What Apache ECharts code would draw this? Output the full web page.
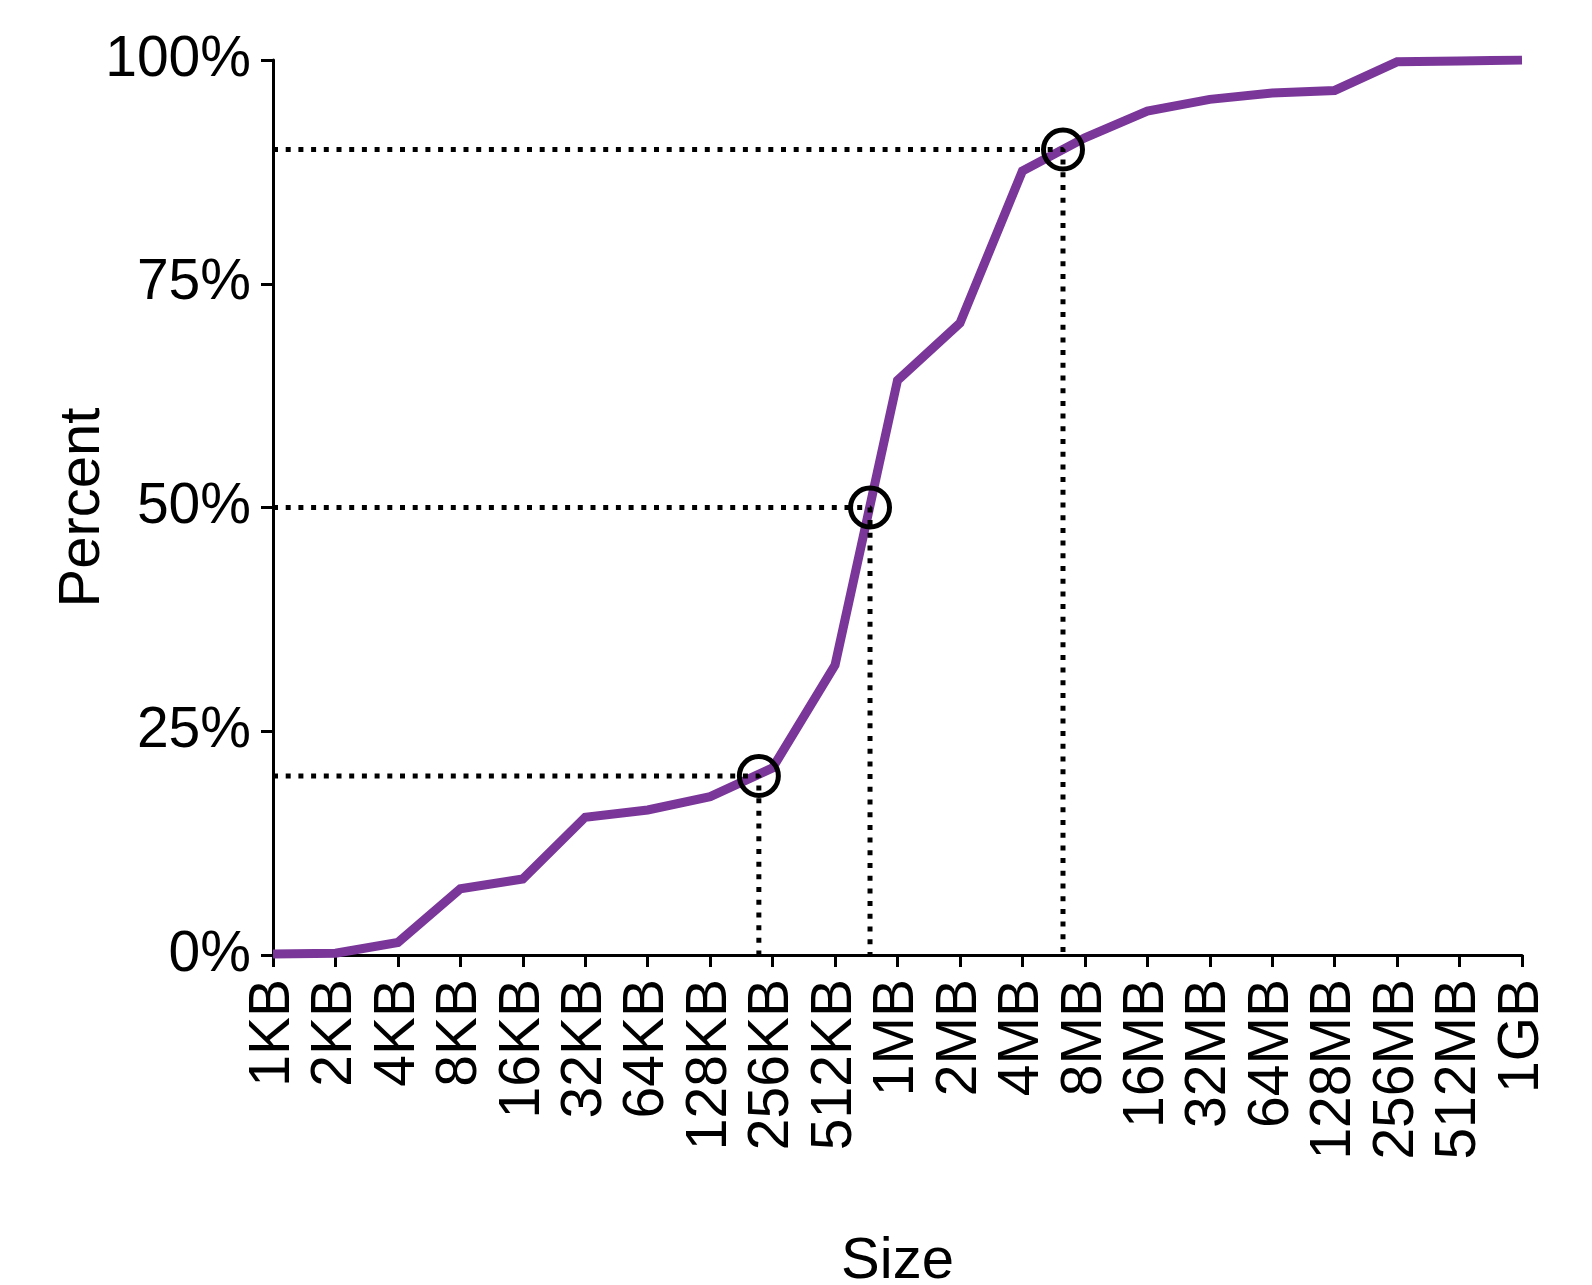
<!DOCTYPE html>
<html>
<head>
<meta charset="utf-8">
<title>Size CDF</title>
<script src="https://cdn.jsdelivr.net/npm/echarts@6/dist/echarts.min.js"></script>
<style>
  html, body { margin: 0; padding: 0; background: #fff; overflow: hidden; }
  #chart { width: 1592px; height: 1285px; }
</style>
</head>
<body>
<div id="chart"></div>
<script>
// Size buckets on the x axis (one tick each, doubling)
const sizeLabels = ['1KB', '2KB', '4KB', '8KB', '16KB', '32KB', '64KB', '128KB', '256KB', '512KB',
  '1MB', '2MB', '4MB', '8MB', '16MB', '32MB', '64MB', '128MB', '256MB', '512MB', '1GB'];

// Cumulative percent at each size bucket
const cumulativePct = [0.1, 0.2, 1.4, 7.4, 8.5, 15.4, 16.2, 17.7, 20.9, 32.4,
  64.2, 70.6, 87.6, 91.3, 94.3, 95.6, 96.3, 96.6, 99.8, 99.9, 100];

// Highlighted percentiles and where they fall on the size axis (bucket index)
const percentileLevels = [20, 50, 90];
const percentilePos = [7.78, 9.56, 12.65];

const yTicks = [0, 25, 50, 75, 100];

const FONT = '"Liberation Sans", Arial, Helvetica, sans-serif';
const chart = echarts.init(document.getElementById('chart'));

const curveData = cumulativePct.map((v, i) => [i, v]);

// Dotted guide lines: from the y axis across to the percentile point, then down to the x axis
const guideSeries = percentileLevels.map((p, k) => ({
  type: 'line',
  data: [[0, p], [percentilePos[k], p], [percentilePos[k], 0]],
  symbol: 'none',
  silent: true,
  z: 3,
  lineStyle: { color: '#000', width: 5, type: [5, 7.7], cap: 'butt' }
}));

const option = {
  animation: false,
  backgroundColor: '#fff',
  textStyle: { fontFamily: FONT, color: '#000' },
  grid: {
    left: 273, right: 70, top: 60, bottom: 330,
    containLabel: false,
    outerBoundsMode: 'none'
  },
  xAxis: {
    type: 'value',
    min: 0,
    max: sizeLabels.length - 1,
    interval: 1,
    name: 'Size',
    nameLocation: 'middle',
    nameGap: 278,
    nameMoveOverlap: false,
    nameTextStyle: { fontFamily: FONT, fontSize: 58, color: '#000' },
    axisLine: { show: true, lineStyle: { color: '#000', width: 3 } },
    axisTick: { show: true, inside: false, length: 12, lineStyle: { color: '#000', width: 3 } },
    splitLine: { show: false },
    axisLabel: {
      rotate: 90,
      margin: 24,
      fontFamily: FONT,
      fontSize: 57,
      color: '#000',
      formatter: v => sizeLabels[Math.round(v)] || ''
    }
  },
  yAxis: {
    type: 'value',
    min: yTicks[0],
    max: yTicks[yTicks.length - 1],
    interval: 25,
    name: 'Percent',
    nameLocation: 'middle',
    nameRotate: 90,
    nameGap: 161,
    nameMoveOverlap: false,
    nameTextStyle: { fontFamily: FONT, fontSize: 58, color: '#000' },
    axisLine: { show: true, lineStyle: { color: '#000', width: 3 } },
    axisTick: { show: true, inside: false, length: 12, lineStyle: { color: '#000', width: 3 } },
    splitLine: { show: false },
    axisLabel: {
      margin: 22,
      fontFamily: FONT,
      fontSize: 57,
      color: '#000',
      formatter: '{value}%'
    }
  },
  series: [
    {
      type: 'line',
      data: curveData,
      symbol: 'none',
      z: 2,
      lineStyle: { color: '#7a3799', width: 9, join: 'miter' }
    },
    ...guideSeries,
    {
      type: 'scatter',
      data: percentileLevels.map((p, k) => [percentilePos[k], p]),
      symbol: 'circle',
      symbolSize: 39,
      z: 4,
      itemStyle: { color: 'rgba(0,0,0,0)', borderColor: '#000', borderWidth: 5, opacity: 1 }
    }
  ]
};

chart.setOption(option);
</script>
</body>
</html>
